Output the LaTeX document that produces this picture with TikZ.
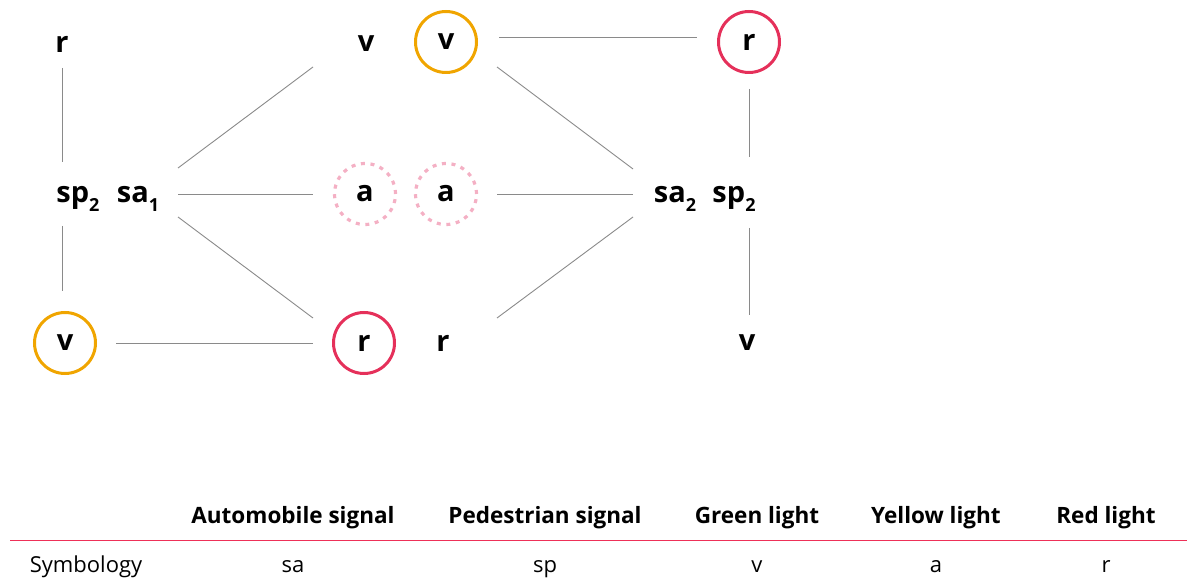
\documentclass[tikz,border=0pt]{standalone}
\usepackage{fontspec}
\setmainfont{Open Sans}
\definecolor{lyellow}{HTML}{F0A500}
\definecolor{lred}{HTML}{E5305A}
\definecolor{lline}{HTML}{EE3058}
\definecolor{lpink}{HTML}{F4B0C4}
\definecolor{lgray}{HTML}{8A8A8A}
\newcommand{\subidx}[1]{\raisebox{-0.32em}{\fontsize{18}{18}\selectfont #1}}
\tikzset{
  lbl/.style={font=\fontsize{29}{29}\selectfont\bfseries, inner sep=0pt},
  ringy/.style={lbl, circle, draw=lyellow, line width=3pt, minimum size=61pt},
  ringr/.style={lbl, circle, draw=lred, line width=3pt, minimum size=61pt},
  ringa/.style={lbl, circle, draw=lpink, line width=3.2pt, dash pattern=on 4pt off 5.6pt, minimum size=61pt},
  conn/.style={draw=lgray, line width=0.9pt},
  head/.style={font=\fontsize{22.5}{22.5}\selectfont\bfseries, inner sep=0pt, anchor=base},
  cell/.style={font=\fontsize{22}{22}\selectfont, inner sep=0pt, anchor=base},
}
\begin{document}
\begin{tikzpicture}[x=1pt,y=-1pt]
\useasboundingbox (0,0) rectangle (1187,580);
% nodes
\node[lbl] (rTL) at (62,44) {r};
\node[lbl] (vT) at (366,44) {v};
\node[ringy] (vTc) at (446,42) {v};
\node[ringr] (rTc) at (749,42) {r};
\node[lbl] (sp2L) at (78,199) {sp\subidx{2}};
\node[lbl] (sa1) at (138,199) {sa\subidx{1}};
\node[ringa] (aL) at (365,194) {a};
\node[ringa] (aR) at (446,194) {a};
\node[lbl] (sa2) at (675,199) {sa\subidx{2}};
\node[lbl] (sp2R) at (734,199) {sp\subidx{2}};
\node[ringy] (vBc) at (65,343) {v};
\node[ringr] (rBc) at (364,343) {r};
\node[lbl] (rB) at (443,343) {r};
\node[lbl] (vB) at (747,343) {v};
% connector ends
\coordinate (p1) at (62,68);   \coordinate (p2) at (62,162);
\coordinate (p3) at (62,226);  \coordinate (p4) at (62,291);
\coordinate (p5) at (178,168); \coordinate (p6) at (313,67);
\coordinate (p7) at (178,194); \coordinate (p8) at (313,194);
\coordinate (p9) at (178,217); \coordinate (p10) at (313,318);
\coordinate (p11) at (116,343);\coordinate (p12) at (313,343);
\coordinate (p13) at (499,37); \coordinate (p14) at (697,37);
\coordinate (p15) at (497,67); \coordinate (p16) at (633,169);
\coordinate (p17) at (497,194);\coordinate (p18) at (633,194);
\coordinate (p19) at (497,318);\coordinate (p20) at (633,217);
\coordinate (p21) at (749,89); \coordinate (p22) at (749,157);
\coordinate (p23) at (749,228);\coordinate (p24) at (749,315);
\draw[conn] (p1) -- (p2);
\draw[conn] (p3) -- (p4);
\draw[conn] (p5) -- (p6);
\draw[conn] (p7) -- (p8);
\draw[conn] (p9) -- (p10);
\draw[conn] (p11) -- (p12);
\draw[conn] (p13) -- (p14);
\draw[conn] (p15) -- (p16);
\draw[conn] (p17) -- (p18);
\draw[conn] (p19) -- (p20);
\draw[conn] (p21) -- (p22);
\draw[conn] (p23) -- (p24);
% table
\node[head] (h1) at (293,523) {Automobile signal};
\node[head] (h2) at (545,523) {Pedestrian signal};
\node[head] (h3) at (757,523) {Green light};
\node[head] (h4) at (936,523) {Yellow light};
\node[head] (h5) at (1106,523) {Red light};
\coordinate (t1) at (10,540.5); \coordinate (t2) at (1187,540.5);
\draw[draw=lline, line width=1.4pt] (t1) -- (t2);
\node[cell] (c0) at (86,572) {Symbology};
\node[cell] (c1) at (293,572) {sa};
\node[cell] (c2) at (545,572) {sp};
\node[cell] (c3) at (757,572) {v};
\node[cell] (c4) at (936,572) {a};
\node[cell] (c5) at (1106,572) {r};
\end{tikzpicture}
\end{document}
